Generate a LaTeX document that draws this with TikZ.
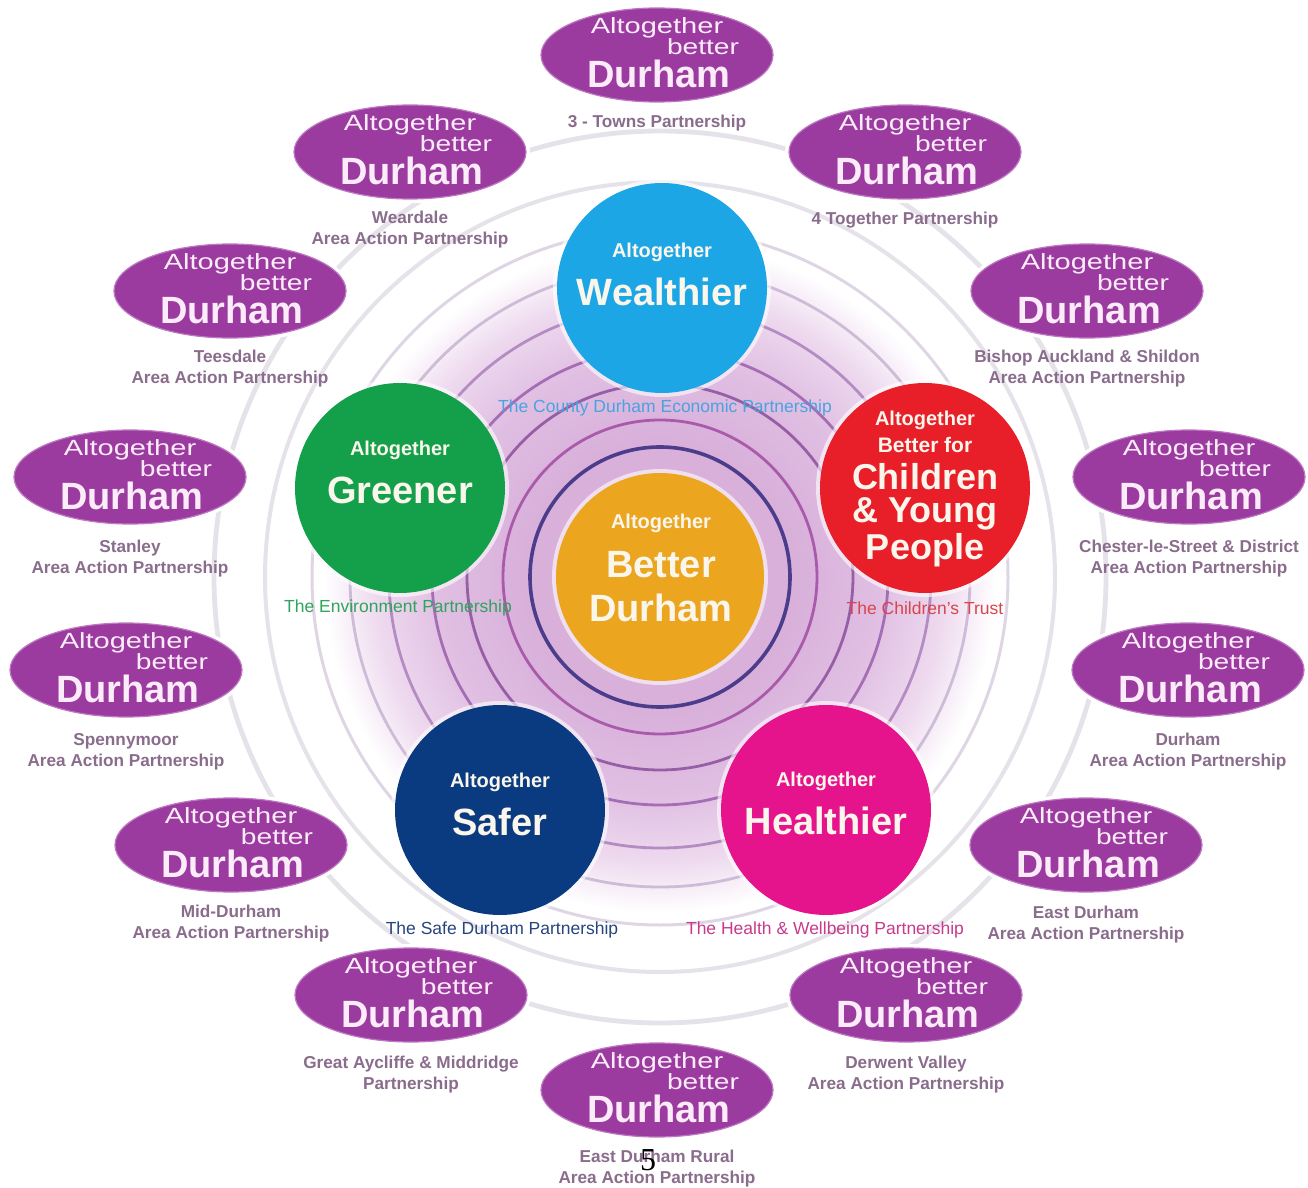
\documentclass[tikz,border=0pt]{standalone}
\usepackage{fontspec}
\setmainfont{Liberation Sans}
\newfontfamily\pagefont{Liberation Serif}
\usetikzlibrary{shapes.geometric,calc}

\definecolor{glowA}{RGB}{216,176,218}
\definecolor{glowB}{RGB}{224,190,226}
\definecolor{glowC}{RGB}{238,218,239}
\definecolor{abdpurple}{RGB}{155,59,159}
\definecolor{abdrim}{RGB}{190,120,195}
\definecolor{abdtext}{RGB}{252,236,250}
\definecolor{aaptext}{RGB}{138,108,140}
\definecolor{cWealth}{RGB}{28,166,230}
\definecolor{cGreen}{RGB}{20,160,75}
\definecolor{cChild}{RGB}{232,30,40}
\definecolor{cSafe}{RGB}{10,58,128}
\definecolor{cHealth}{RGB}{230,20,140}
\definecolor{cGold}{RGB}{235,165,30}
\definecolor{ctext}{RGB}{250,246,236}
\definecolor{pBlue}{RGB}{74,163,223}
\definecolor{pGreen}{RGB}{45,165,90}
\definecolor{pRed}{RGB}{216,69,74}
\definecolor{pNavy}{RGB}{39,69,126}
\definecolor{pMag}{RGB}{200,58,140}
\definecolor{ringA}{RGB}{75,60,140}
\definecolor{ringB}{RGB}{170,90,170}
\definecolor{ringC}{RGB}{150,95,165}
\definecolor{ringD}{RGB}{165,110,180}
\definecolor{ringE}{RGB}{180,140,195}
\definecolor{ringF}{RGB}{205,188,215}
\definecolor{ringG}{RGB}{222,214,228}
\definecolor{ringH}{RGB}{230,226,234}

% TikZ maps the inner 25bp radius of a radial shading onto the path
\pgfdeclareradialshading{bgglow}{\pgfpointorigin}{color(0bp)=(glowA); color(8bp)=(glowA); color(13bp)=(glowB); color(17bp)=(glowC); color(20bp)=(white); color(50bp)=(white)}

\newcommand{\abdpart}[5]{%
  \node[abd] (#1) at (#2,#3) {};
  \node[abdalt] (#1a) at ($(#1)+(0,-27)$) {\scalebox{1.32}[1]{Altogether}};
  \node[abdbet] (#1b) at ($(#1)+(46,-8)$) {\scalebox{1.28}[1]{better}};
  \node[abddur] (#1c) at ($(#1)+(2,19)$) {Durham};
  \node[aaplabel] (#1l) at ($(#1)+(0,#5)$) {#4};
}

\begin{document}
\begin{tikzpicture}[x=0.5pt,y=-0.5pt,
  abd/.style={ellipse, fill=abdpurple, draw=abdrim, line width=0.6pt,
    preaction={draw=white, line width=4pt},
    minimum width=116pt, minimum height=47pt, inner sep=0pt},
  abdalt/.style={inner sep=0pt, text=abdtext, font=\fontsize{11}{13}\selectfont},
  abdbet/.style={inner sep=0pt, text=abdtext, font=\fontsize{11}{13}\selectfont},
  abddur/.style={inner sep=0pt, text=abdtext, font=\bfseries\fontsize{19}{22}\selectfont},
  aaplabel/.style={inner sep=0pt, text=aaptext, align=center,
    font=\bfseries\fontsize{8.6}{10.5}\selectfont},
  bigc/.style={circle, minimum size=105pt, inner sep=0pt,
    preaction={draw=white, line width=4pt, draw opacity=0.6}},
  csmall/.style={inner sep=0pt, text=ctext, font=\bfseries\fontsize{10}{12}\selectfont},
  cbig/.style={inner sep=0pt, text=ctext, font=\bfseries\fontsize{19}{22}\selectfont},
  cmid/.style={inner sep=0pt, text=ctext, font=\bfseries\fontsize{18}{20}\selectfont},
  plabel/.style={inner sep=0pt, font=\fontsize{8.75}{10}\selectfont},
  ring/.style={line width=#1}
]
\useasboundingbox (0,0) rectangle (1308,1188);
\fill[white] (0,0) rectangle (1308,1188);

% background glow and rings
\coordinate (hub) at (660,577);
\shade[shading=bgglow] (hub) circle[radius=420];
\draw[ringH, ring=2.4pt] (hub) circle[radius=446];
\draw[ringH, ring=2pt] (hub) circle[radius=395];
\draw[ringG, ring=1.5pt] (hub) circle[radius=348];
\draw[ringF, ring=1.4pt] (hub) circle[radius=310];
\draw[ringE, ring=1.4pt] (hub) circle[radius=271];
\draw[ringD, ring=1.4pt] (hub) circle[radius=228];
\draw[ringC, ring=1.4pt] (hub) circle[radius=193];
\draw[ringB, ring=1.4pt] (hub) circle[radius=157];
\draw[ringA, ring=1.8pt] (hub) circle[radius=130];

% outer "Altogether better Durham" ellipses
\abdpart{e1}{657}{55}{3 - Towns Partnership}{68}
\abdpart{e2}{410}{152}{Weardale\\Area Action Partnership}{78}
\abdpart{e3}{905}{152}{4 Together Partnership}{68}
\abdpart{e4}{230}{291}{Teesdale\\Area Action Partnership}{78}
\abdpart{e5}{1087}{291}{Bishop Auckland \& Shildon\\Area Action Partnership}{78}
\abdpart{e6}{130}{477}{Stanley\\Area Action Partnership}{82}
\abdpart{e7}{1189}{477}{Chester-le-Street \& District\\Area Action Partnership}{82}
\abdpart{e8}{126}{670}{Spennymoor\\Area Action Partnership}{82}
\abdpart{e9}{1188}{670}{Durham\\Area Action Partnership}{82}
\abdpart{e10}{231}{845}{Mid-Durham\\Area Action Partnership}{79}
\abdpart{e11}{1086}{845}{East Durham\\Area Action Partnership}{80}
\abdpart{e12}{411}{995}{Great Aycliffe \& Middridge\\Partnership}{80}
\abdpart{e13}{906}{995}{Derwent Valley\\Area Action Partnership}{80}
\abdpart{e14}{657}{1090}{East Durham Rural\\Area Action Partnership}{79}

% big circles
\node[bigc, fill=cWealth] (wealth) at (662,288) {};
\node[csmall] (wealtha) at (662,252) {Altogether};
\node[cbig] (wealthb) at (662,292) {Wealthier};
\node[plabel, text=pBlue] (wealthp) at (665,408) {The County Durham Economic Partnership};

\node[bigc, fill=cGreen] (green) at (400,488) {};
\node[csmall] (greena) at (400,450) {Altogether};
\node[cbig] (greenb) at (400,490) {Greener};
\node[plabel, text=pGreen] (greenp) at (398,608) {The Environment Partnership};

\node[bigc, fill=cChild] (child) at (925,488) {};
\node[csmall] (childa) at (925,420) {Altogether};
\node[csmall, font=\bfseries\fontsize{10.5}{12}\selectfont] (childb) at (925,445) {Better for};
\node[cmid] (childc) at (925,477) {Children};
\node[cmid] (childd) at (925,514) {\& Young};
\node[cmid] (childe) at (925,550) {People};
\node[plabel, text=pRed] (childp) at (925,608) {The Children's Trust};

\node[bigc, fill=cSafe] (safe) at (500,810) {};
\node[csmall] (safea) at (500,782) {Altogether};
\node[cbig] (safeb) at (500,822) {Safer};
\node[plabel, text=pNavy] (safep) at (502,930) {The Safe Durham Partnership};

\node[bigc, fill=cHealth] (health) at (826,810) {};
\node[csmall] (healtha) at (826,781) {Altogether};
\node[cbig] (healthb) at (826,821) {Healthier};
\node[plabel, text=pMag] (healthp) at (825,930) {The Health \& Wellbeing Partnership};

\node[bigc, fill=cGold, minimum size=104pt] (gold) at (hub) {};
\node[csmall] (golda) at (661,523) {Altogether};
\node[cbig] (goldb) at (661,565) {Better};
\node[cbig] (goldc) at (661,608) {Durham};

% page number
\node[inner sep=0pt, font=\pagefont\fontsize{16}{18}\selectfont] (pagenum) at (648,1160) {5};
\end{tikzpicture}
\end{document}
